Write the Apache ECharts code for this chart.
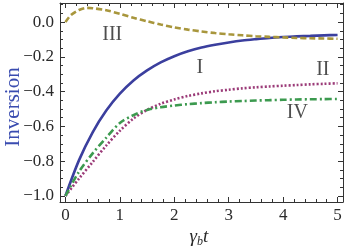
<!DOCTYPE html>
<html><head><meta charset="utf-8">
<script src="https://cdn.jsdelivr.net/npm/echarts@6/dist/echarts.min.js"></script>
<style>html,body{margin:0;padding:0;background:#fff}#c{width:349px;height:251px}</style>
</head><body><div id="c"></div>
<script>
var tValues = [0,0.25,0.5,0.75,1,1.25,1.5,1.75,2,2.25,2.5,2.75,3,3.25,3.5,3.75,4,4.25,4.5,4.75,5];
var curveI  = [-1.0,-0.794,-0.634,-0.509,-0.412,-0.336,-0.278,-0.232,-0.196,-0.168,-0.146,-0.13,-0.117,-0.106,-0.098,-0.091,-0.086,-0.082,-0.079,-0.076,-0.074];
var curveII = [-1.0,-0.90,-0.805,-0.71,-0.625,-0.555,-0.505,-0.47,-0.445,-0.425,-0.41,-0.398,-0.389,-0.381,-0.375,-0.37,-0.366,-0.362,-0.358,-0.355,-0.352];
var tIII    = [0,0.1,0.25,0.4,0.5,0.75,1,1.25,1.5,1.75,2,2.25,2.5,2.75,3,3.25,3.5,3.75,4,4.25,4.5,4.75,5];
var curveIII= [0.0,0.04,0.07,0.082,0.08,0.068,0.048,0.025,0.005,-0.014,-0.03,-0.043,-0.054,-0.063,-0.07,-0.076,-0.081,-0.085,-0.088,-0.091,-0.093,-0.094,-0.096];
var curveIV = [-1.0,-0.86,-0.755,-0.665,-0.58,-0.535,-0.505,-0.49,-0.48,-0.472,-0.466,-0.461,-0.457,-0.454,-0.451,-0.449,-0.447,-0.445,-0.444,-0.443,-0.442];
var seriesNames = ['I','II','III','IV'];
var labelX = [2.47, 4.73, 0.86, 4.26];
var labelY = [-0.26, -0.274, -0.072, -0.52];
var yMajor = [-1.0,-0.8,-0.6,-0.4,-0.2,0.0];
var yMinor = [-1.0,-0.95,-0.9,-0.85,-0.8,-0.75,-0.7,-0.65,-0.6,-0.55,-0.5,-0.45,-0.4,-0.35,-0.3,-0.25,-0.2,-0.15,-0.1,-0.05,0.0,0.05,0.1];
var xMajor = [0,1,2,3,4,5];
var xMinor = [0,0.2,0.4,0.6,0.8,1,1.2,1.4,1.6,1.8,2,2.2,2.4,2.6,2.8,3,3.2,3.4,3.6,3.8,4,4.2,4.4,4.6,4.8,5];

function pairs(xs, ys){ return xs.map(function(x,i){return [x, ys[i]];}); }
var FONT = 'Liberation Serif';
var AX = '#333';
var xMin=-0.1, xMax=5.1, yMin=-1.035, yMax=0.11;

function xAx(pos, vals, len, labels, line){
  return {type:'value', min:xMin, max:xMax, position:pos,
    axisLine:{show:line, onZero:false, lineStyle:{color:AX, width:1}},
    axisTick:{show:true, inside:true, length:len, customValues:vals, lineStyle:{color:AX,width:1}},
    axisLabel:{show:labels, customValues:xMajor, margin:5, color:'#2a2a2a', fontFamily:FONT, fontSize:17,
      formatter:function(v){return String(Math.round(v));}},
    splitLine:{show:false}};
}
function yAx(pos, vals, len, labels, line){
  return {type:'value', min:yMin, max:yMax, position:pos,
    axisLine:{show:line, onZero:false, lineStyle:{color:AX, width:1}},
    axisTick:{show:true, inside:true, length:len, customValues:vals, lineStyle:{color:AX,width:1}},
    axisLabel:{show:labels, customValues:yMajor, margin:6, color:'#2a2a2a', fontFamily:FONT, fontSize:17,
      formatter:function(v){var s=Math.abs(v).toFixed(1); return (v< -1e-9?'\u2212':'')+s;}},
    splitLine:{show:false}};
}

var chart = echarts.init(document.getElementById('c'), null, {renderer:'canvas'});
chart.setOption({
  animation:false,
  grid:{left:60, top:3, right:6, bottom:49, containLabel:false},
  xAxis:[xAx('bottom',xMajor,5,true,true), xAx('bottom',xMinor,3,false,false),
         xAx('top',xMajor,5,false,true), xAx('top',xMinor,3,false,false)],
  yAxis:[yAx('left',yMajor,5,true,true), yAx('left',yMinor,3,false,false),
         yAx('right',yMajor,5,false,true), yAx('right',yMinor,3,false,false)],
  graphic:[
    {type:'text', rotation:Math.PI/2, x:13, y:107, style:{text:'Inversion', fill:'#3a4cb0', font:'21px "Liberation Serif"', textAlign:'center', textVerticalAlign:'middle'}},
    {type:'text', x:199, y:237, style:{rich:{g:{fontFamily:FONT,fontStyle:'italic',fontSize:19,fill:'#2a2a2a'}, s:{fontFamily:FONT,fontStyle:'italic',fontSize:12,fill:'#2a2a2a',padding:[9,0,0,0]}, t:{fontFamily:FONT,fontStyle:'italic',fontSize:19,fill:'#2a2a2a'}},
      text:'{g|\u03b3}{s|b}{t|t}', textAlign:'center', textVerticalAlign:'middle'}}
  ],
  series:[
    {name:'I', type:'line', smooth:0.3, showSymbol:false, data:pairs(tValues,curveI), lineStyle:{color:'#3b3f9e', width:2.6, type:'solid'}},
    {name:'II', type:'line', smooth:0.3, showSymbol:false, data:pairs(tValues,curveII), lineStyle:{color:'#9b3b78', width:2.6, type:[2,2]}},
    {name:'III', type:'line', smooth:0.3, showSymbol:false, data:pairs(tIII,curveIII), lineStyle:{color:'#a8963c', width:2.6, type:[6,3]}},
    {name:'IV', type:'line', smooth:0.3, showSymbol:false, data:pairs(tValues,curveIV), lineStyle:{color:'#3c9a4f', width:2.6, type:[7,3,2,3]}},
    {name:'labels', type:'scatter', symbolSize:0, data:labelX.map(function(x,i){return {value:[x,labelY[i]], name:seriesNames[i]};}),
      label:{show:true, position:'inside', formatter:'{b}', fontFamily:FONT, fontSize:20, color:'#222'}, z:5}
  ]
});
</script></body></html>
